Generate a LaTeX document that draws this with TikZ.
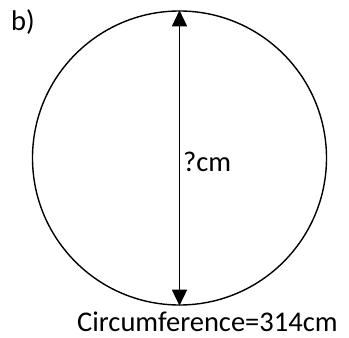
\documentclass[tikz,border=0pt]{standalone}
\usepackage{fontspec}
\setmainfont{Carlito}
\usetikzlibrary{arrows.meta, positioning}

\begin{document}
\begin{tikzpicture}[x=1pt, y=1pt, >={Triangle[length=16pt, width=15pt]},
    lbl/.style={inner sep=0pt, anchor=base west, font=\fontsize{28.5}{30}\selectfont}]
    \useasboundingbox (0,0) rectangle (349,338);
    % Kreis und Durchmesser
    \node[draw, circle, line width=1.4pt, minimum size=294pt, inner sep=0pt] (circ) at (179.5,180) {};
    \draw[<->, line width=1.6pt] (circ.north) -- (circ.south);
    % Beschriftungen
    \node[lbl] (part) at (11,307) {b)};
    \node[lbl] (diam) at (183,166) {?cm};
    \node[lbl] (circum) at (77,6) {Circumference=314cm};
\end{tikzpicture}
\end{document}
